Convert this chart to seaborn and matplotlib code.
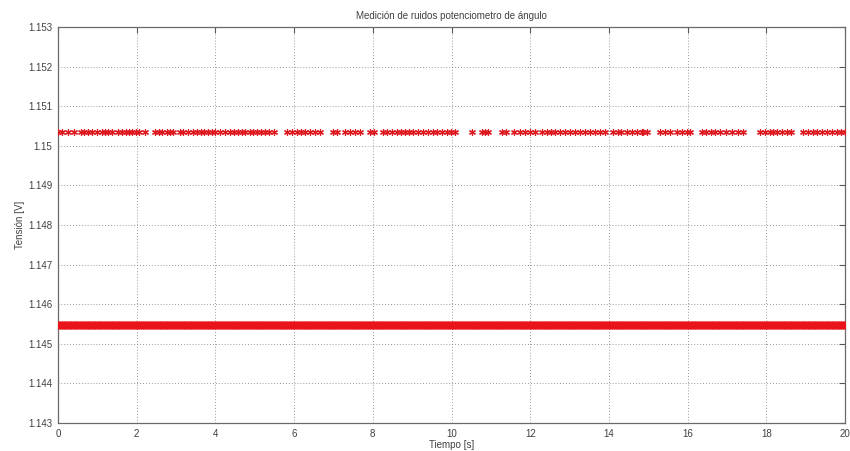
import numpy as np
import pandas as pd
import matplotlib
matplotlib.use("Agg")
import matplotlib.pyplot as plt
import seaborn as sns

# --- data ---
level_low = 1.14547
level_high = 1.15035
sample_period = 0.01
t_end = 20.0
high_times = [
    0.01, 0.11, 0.25, 0.41, 0.58, 0.67, 0.77, 0.87, 0.98, 1.11, 1.19, 1.28, 1.38, 1.53,
    1.62, 1.72, 1.80, 1.89, 1.97, 2.06, 2.21, 2.47, 2.57, 2.65, 2.76, 2.85, 2.93, 3.10,
    3.18, 3.31, 3.44, 3.52, 3.63, 3.72, 3.80, 3.91, 3.99, 4.12, 4.24, 4.37, 4.48, 4.57,
    4.67, 4.75, 4.88, 4.96,
    5.05, 5.15, 5.26, 5.37, 5.49, 5.81, 5.94, 6.07, 6.17, 6.28, 6.40, 6.53, 6.66, 6.98,
    7.10, 7.29, 7.42, 7.55, 7.67, 7.93, 8.03, 8.27, 8.37, 8.48, 8.61, 8.71, 8.82, 8.93,
    9.03, 9.16, 9.28, 9.41, 9.52, 9.62, 9.75, 9.88,
    9.99, 10.09, 10.51, 10.77, 10.85, 10.94, 11.28, 11.38, 11.60, 11.74, 11.87, 12.00,
    12.12, 12.29, 12.42, 12.53, 12.63, 12.76, 12.88, 13.01, 13.14, 13.27, 13.39, 13.52,
    13.65, 13.77, 13.90, 14.11, 14.22, 14.32, 14.45, 14.58, 14.71, 14.83,
    14.87, 14.98, 15.30, 15.42, 15.55, 15.72, 15.85, 15.98, 16.06, 16.36, 16.48, 16.59,
    16.70, 16.82, 16.97, 17.14, 17.29, 17.41, 17.84, 17.96, 18.09, 18.17, 18.26, 18.39,
    18.52, 18.64, 18.94, 19.07, 19.18, 19.28, 19.41, 19.53, 19.66, 19.79, 19.91, 19.99,
]
x_ticks = [0, 2, 4, 6, 8, 10, 12, 14, 16, 18, 20]
x_tick_labels = ["0", "2", "4", "6", "8", "10", "12", "14", "16", "18", "20"]
y_ticks = [1.143, 1.144, 1.145, 1.146, 1.147, 1.148, 1.149, 1.150, 1.151, 1.152, 1.153]
y_tick_labels = ["1.143", "1.144", "1.145", "1.146", "1.147", "1.148", "1.149",
                 "1.15", "1.151", "1.152", "1.153"]
title = "Medición de ruidos potenciometro de ángulo"
xlabel = "Tiempo [s]"
ylabel = "Tensión [V]"

# sampling grid of the acquisition (time axis)
t_all = np.round(np.arange(0, int(round(t_end / sample_period)) + 1) * sample_period, 4)
df_low = pd.DataFrame({"t": t_all, "v": level_low})
df_high = pd.DataFrame({"t": high_times, "v": level_high})

sns.set_style("white")
plt.rcParams["font.family"] = ["Liberation Sans", "DejaVu Sans"]
text_color = "#404040"

fig = plt.figure(figsize=(8.5, 4.51), dpi=100)
ax = fig.add_axes([58 / 850, 1 - 423 / 451, (845 - 58) / 850, (423 - 27) / 451])

star = (6, 2, 0)
sns.scatterplot(data=df_low, x="t", y="v", ax=ax, marker=star, s=20,
                color="#e8141a", edgecolor="#e8141a", linewidth=1.0, legend=False, zorder=3)
sns.scatterplot(data=df_high, x="t", y="v", ax=ax, marker=star, s=18,
                color="#dc1a20", edgecolor="#dc1a20", linewidth=0.9, legend=False, zorder=3)

ax.set_xlim(0, 20)
ax.set_ylim(1.143, 1.153)
ax.set_xticks(x_ticks)
ax.set_xticklabels(x_tick_labels)
ax.set_yticks(y_ticks)
ax.set_yticklabels(y_tick_labels)
ax.tick_params(direction="in", length=4, width=0.8, colors="#555555",
               labelsize=7, labelcolor=text_color, top=True, right=True, pad=4)
ax.grid(True, linestyle=(0, (1, 2.5)), color="#777777", linewidth=0.6)
for sp in ax.spines.values():
    sp.set_visible(True)
    sp.set_color("#6a6a6a")
    sp.set_linewidth(0.9)

ax.set_title(title, fontsize=7, color=text_color, pad=6)
ax.set_xlabel(xlabel, fontsize=7, color=text_color, labelpad=1)
ax.set_ylabel(ylabel, fontsize=7, color=text_color, labelpad=2)

fig.savefig("out.png", dpi=100)
